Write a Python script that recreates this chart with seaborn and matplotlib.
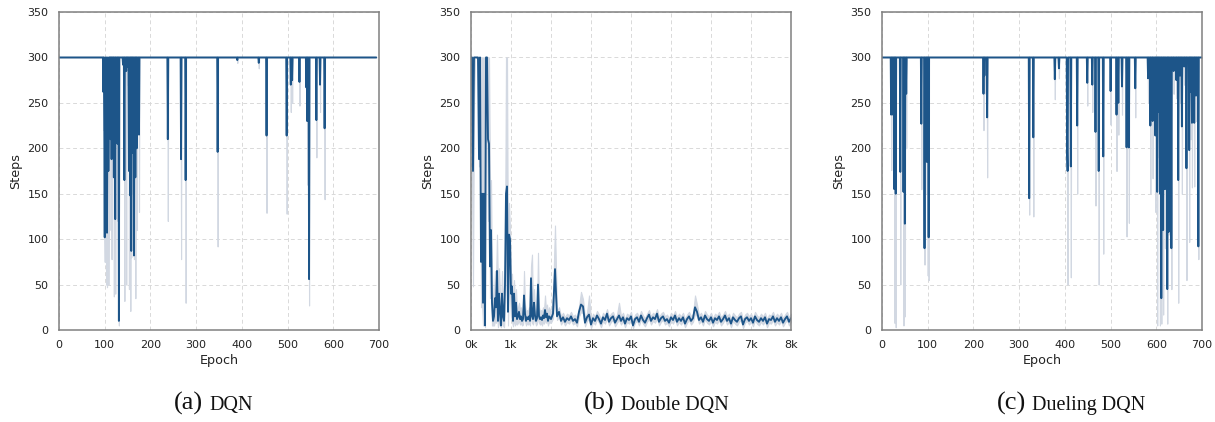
import numpy as np
import pandas as pd
import matplotlib
matplotlib.use("Agg")
import matplotlib.pyplot as plt
import seaborn as sns
from matplotlib.ticker import FuncFormatter

# ---------------- data ----------------
MAX_STEPS = 300

# (a) DQN : epochs 0..694, steps 300 except at these dips
dqn_n_epochs = 695
dqn_dip_epoch = [97, 99, 100, 102, 103, 105, 106, 108, 109, 111, 113, 115, 118, 120, 123,
                 128, 131, 140, 143, 147, 150, 153, 156, 158, 161, 164, 167, 170, 175,
                 238, 267, 277, 347, 390, 437, 454, 498, 507, 510, 526, 541, 543, 547,
                 563, 571, 581]
dqn_dip_mean = [262, 230, 102, 250, 140, 107, 255, 175, 235, 270, 210, 188, 245, 168, 122,
                205, 10, 292, 165, 285, 290, 175, 148, 87, 195, 82, 168, 200, 215,
                210, 188, 165, 196, 297, 294, 214, 214, 270, 275, 273, 267, 230, 56,
                231, 270, 222]
dqn_dip_low = [220, 120, 75, 180, 50, 47, 100, 50, 150, 200, 110, 78, 190, 37, 40,
               120, 5, 280, 32, 50, 270, 45, 21, 80, 150, 78, 35, 110, 130,
               120, 78, 30, 92, 294, 288, 129, 128, 240, 250, 247, 230, 160, 27,
               190, 240, 144]

# (b) Double DQN : 25-epoch grid for 0..1975, 50-epoch grid for 2000..8000
ddqn_mean_early = [300, 300, 175, 300, 300, 300, 300, 300, 188, 300,
                   75, 150, 30, 150, 5, 300, 300, 210, 205, 70,
                   110, 30, 10, 15, 35, 25, 65, 10, 40, 20,
                   5, 40, 15, 10, 50, 150, 158, 20, 105, 100,
                   40, 48, 10, 40, 15, 30, 12, 15, 20, 12,
                   15, 10, 12, 38, 18, 10, 14, 12, 15, 10,
                   57, 15, 12, 30, 16, 10, 13, 50, 15, 12,
                   14, 11, 16, 13, 22, 14, 18, 10, 15, 14]
ddqn_low_early = [300, 170, 48, 250, 300, 300, 300, 290, 180, 240,
                  25, 30, 5, 60, 3, 280, 250, 120, 150, 35,
                  50, 5, 5, 5, 10, 8, 15, 3, 10, 5,
                  3, 10, 5, 3, 20, 90, 100, 5, 50, 40,
                  15, 10, 4, 12, 5, 8, 6, 8, 10, 6,
                  8, 5, 6, 15, 10, 5, 8, 6, 8, 5,
                  20, 8, 6, 12, 10, 5, 7, 15, 8, 6,
                  8, 5, 9, 7, 12, 8, 10, 5, 9, 8]
ddqn_high_early = [300, 300, 300, 300, 300, 300, 300, 300, 300, 300,
                   300, 300, 300, 300, 300, 300, 300, 300, 300, 165,
                   165, 60, 30, 40, 65, 55, 105, 45, 68, 40,
                   30, 65, 35, 25, 90, 300, 300, 60, 140, 110,
                   60, 62, 20, 55, 28, 45, 20, 25, 30, 22,
                   25, 18, 20, 65, 28, 18, 22, 20, 25, 18,
                   70, 83, 20, 45, 25, 18, 22, 85, 25, 20,
                   22, 20, 25, 22, 38, 22, 28, 18, 25, 22]
ddqn_mean_late = [12, 18, 67, 15, 20, 10, 14, 9, 13, 11,
                  15, 10, 12, 8, 20, 28, 26, 8, 14, 17,
                  6, 13, 10, 16, 12, 7, 14, 11, 18, 9,
                  13, 15, 8, 12, 16, 10, 14, 7, 13, 11,
                  15, 5, 12, 14, 9, 16, 11, 8, 13, 17,
                  10, 14, 12, 18, 9, 13, 15, 10, 12, 8,
                  14, 11, 16, 9, 13, 10, 14, 7, 12, 15,
                  10, 13, 25, 20, 11, 14, 9, 16, 12, 10,
                  14, 8, 13, 11, 15, 9, 12, 16, 10, 13,
                  7, 14, 11, 9, 13, 15, 6, 12, 14, 10,
                  13, 8, 15, 11, 9, 13, 10, 14, 7, 12,
                  11, 15, 9, 13, 10, 14, 8, 12, 15, 9,
                  13]
ddqn_low_late = [8, 13, 45, 11, 15, 6, 10, 5, 9, 7,
                 11, 6, 8, 4, 15, 20, 18, 4, 10, 12,
                 2, 9, 6, 12, 8, 3, 10, 7, 13, 5,
                 9, 11, 4, 8, 11, 6, 10, 3, 9, 7,
                 11, 2, 8, 10, 5, 12, 7, 4, 9, 12,
                 6, 10, 8, 13, 5, 9, 11, 6, 8, 4,
                 10, 7, 12, 5, 9, 6, 10, 3, 8, 11,
                 6, 9, 18, 15, 7, 10, 5, 12, 8, 6,
                 10, 4, 9, 7, 11, 5, 8, 12, 6, 9,
                 3, 10, 7, 5, 9, 11, 2, 8, 10, 6,
                 9, 4, 11, 7, 5, 9, 6, 10, 3, 8,
                 7, 11, 5, 9, 6, 10, 4, 8, 11, 5,
                 9]
ddqn_high_late = [17, 38, 115, 20, 25, 15, 19, 14, 18, 16,
                  20, 15, 17, 13, 26, 42, 34, 13, 19, 38,
                  11, 18, 15, 21, 17, 12, 19, 16, 23, 14,
                  18, 20, 13, 17, 30, 15, 19, 12, 18, 16,
                  20, 10, 17, 19, 14, 21, 16, 13, 18, 22,
                  15, 19, 17, 23, 14, 18, 20, 15, 17, 13,
                  19, 16, 21, 14, 18, 15, 19, 12, 17, 20,
                  15, 18, 38, 28, 16, 19, 14, 21, 17, 15,
                  19, 13, 18, 16, 20, 14, 17, 21, 15, 18,
                  12, 19, 16, 14, 18, 20, 11, 17, 19, 15,
                  18, 13, 20, 16, 14, 18, 15, 19, 12, 17,
                  16, 20, 14, 18, 15, 19, 13, 17, 20, 14,
                  18]

# (c) Dueling DQN : epochs 0..700
duel_n_epochs = 701
duel_dip_epoch = [20, 24, 27, 30, 40, 47, 50, 53, 86, 93, 98, 100, 102,
                  222, 224, 230, 322, 331, 378, 387, 405, 406, 413, 427,
                  449, 460, 467, 474, 484, 500, 513, 517, 525, 535, 540, 554,
                  582, 587, 592, 598, 602, 605, 608, 611, 615, 619, 624, 627, 633,
                  638, 644, 648, 652, 656, 661, 666, 672, 675, 678, 683, 687, 692]
duel_dip_mean = [237, 237, 155, 150, 174, 152, 117, 260, 227, 90, 185, 252, 102,
                 260, 280, 234, 145, 212, 276, 288, 196, 175, 180, 225,
                 272, 270, 218, 175, 191, 263, 237, 250, 268, 201, 201, 266,
                 277, 225, 230, 214, 152, 240, 150, 35, 110, 155, 45, 108, 90,
                 285, 275, 165, 280, 224, 290, 178, 198, 262, 228, 228, 258, 92]
duel_dip_low = [176, 176, 8, 3, 50, 5, 15, 200, 155, 72, 150, 60, 55,
                220, 260, 168, 127, 125, 254, 277, 95, 50, 58, 150,
                247, 240, 137, 50, 84, 226, 175, 215, 237, 103, 118, 234,
                250, 150, 167, 130, 5, 190, 5, 7, 17, 90, 7, 105, 45,
                260, 255, 30, 250, 150, 270, 55, 97, 210, 157, 158, 230, 78]

BLUE = "#1d5589"
BAND = "#d2d8e2"


def long_frame(x, low, mean, high):
    x = np.asarray(x)
    return pd.DataFrame({
        "Epoch": np.concatenate([x, x, x]),
        "Steps": np.concatenate([np.asarray(low), np.asarray(mean), np.asarray(high)]),
    })


def dip_series(n, epochs, means, lows):
    mean = np.full(n, MAX_STEPS, dtype=float)
    low = np.full(n, MAX_STEPS, dtype=float)
    mean[epochs] = means
    low[epochs] = lows
    high = np.full(n, MAX_STEPS, dtype=float)
    return np.arange(n), low, mean, high


# build frames
xa, la, ma, ha = dip_series(dqn_n_epochs, dqn_dip_epoch, dqn_dip_mean, dqn_dip_low)
df_a = long_frame(xa, la, ma, ha)

xb = np.concatenate([np.arange(len(ddqn_mean_early)) * 25,
                     2000 + np.arange(len(ddqn_mean_late)) * 50])
mb = ddqn_mean_early + ddqn_mean_late
lb = ddqn_low_early + ddqn_low_late
hb = ddqn_high_early + ddqn_high_late
df_b = long_frame(xb, lb, mb, hb)

xc, lc, mc, hc = dip_series(duel_n_epochs, duel_dip_epoch, duel_dip_mean, duel_dip_low)
df_c = long_frame(xc, lc, mc, hc)

# ---------------- plot ----------------
sns.set_theme(style="white")
plt.rcParams["font.family"] = ["DejaVu Sans"]

W, H = 1215, 422
fig = plt.figure(figsize=(W / 100, H / 100), dpi=100)

lefts = [59, 471, 882]
ax_w, ax_top, ax_bot = 320, 12, 330
frames = [df_a, df_b, df_c]
xmax = [700, 8000, 700]
caps = [("(a)", "DQN"), ("(b)", "Double DQN"), ("(c)", "Dueling DQN")]

for i, (lx, df) in enumerate(zip(lefts, frames)):
    ax = fig.add_axes([lx / W, (H - ax_bot) / H, ax_w / W, (ax_bot - ax_top) / H])
    sns.lineplot(data=df, x="Epoch", y="Steps", ax=ax, estimator="median",
                 errorbar=("pi", 100), color=BLUE, linewidth=1.35,
                 err_kws={"alpha": 1.0, "linewidth": 0.8})
    for coll in ax.collections:
        coll.set_facecolor(BAND)
        coll.set_edgecolor(BAND)
    ax.set_xlim(0, xmax[i])
    ax.set_ylim(0, 350)
    ax.set_yticks(range(0, 351, 50))
    if i == 1:
        ax.set_xticks(range(0, 8001, 1000))
        ax.xaxis.set_major_formatter(FuncFormatter(lambda v, p: f"{int(v / 1000)}k"))
    else:
        ax.set_xticks(range(0, 701, 100))
    ax.grid(True, color="#d9d9d9", linestyle=(0, (4, 3)), linewidth=0.7)
    ax.set_axisbelow(True)
    for s in ax.spines.values():
        s.set_color("#808080")
        s.set_linewidth(1.1)
    ax.tick_params(axis="x", labelsize=8, colors="#222222", length=0, pad=7)
    ax.tick_params(axis="y", labelsize=8, colors="#222222", length=0, pad=7.5)
    ax.set_xlabel("Epoch", fontsize=9.2, labelpad=3, color="#222222")
    ax.set_ylabel("Steps", fontsize=9.2, labelpad=4, color="#222222")

    cx = lx + ax_w / 2 - 6
    tag, name = caps[i]
    fig.text((cx - 10) / W, 1 - 410 / H, tag, ha="right", va="baseline",
             fontsize=19, family="Liberation Serif", color="#111111")
    fig.text((cx - 4) / W, 1 - 410 / H, name, ha="left", va="baseline",
             fontsize=14.5, family="Liberation Serif", color="#111111")

fig.savefig("out.png", dpi=100)
